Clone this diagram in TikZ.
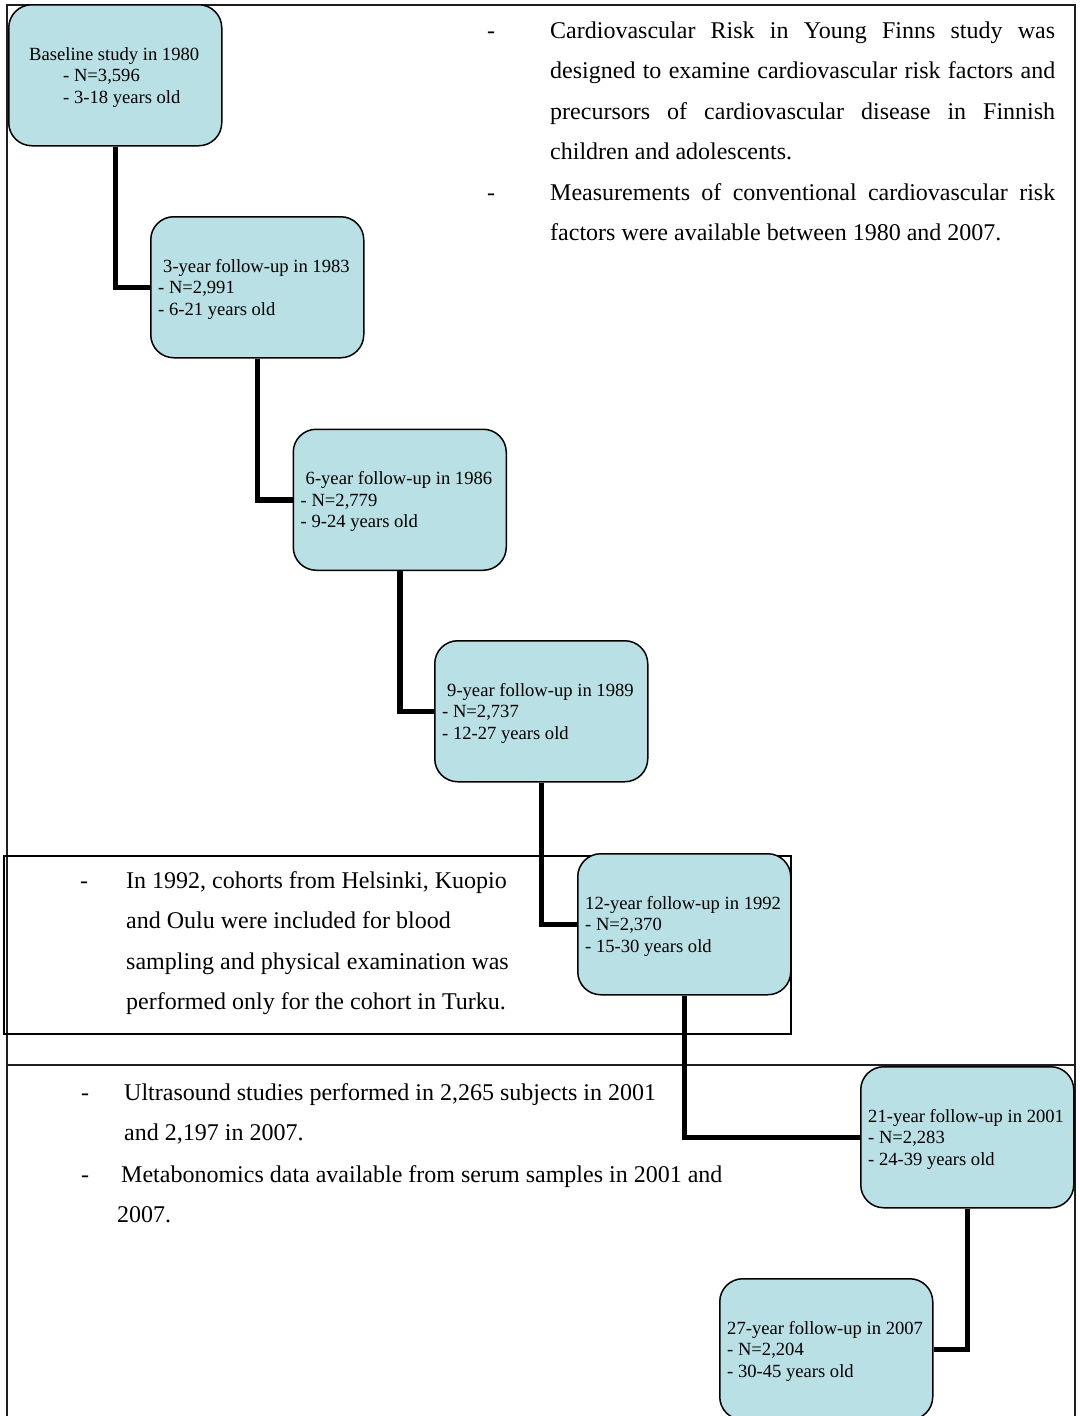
\documentclass[tikz,border=0pt]{standalone}
\usepackage{fontspec}
\setmainfont{Liberation Serif}
\definecolor{boxfill}{RGB}{185,224,228}
\definecolor{framecol}{RGB}{30,30,30}
\begin{document}
\begin{tikzpicture}[x=1pt,y=-1pt,
  stage/.style={draw=black, line width=1.5pt, fill=boxfill, rounded corners=23pt,
    minimum width=213pt, minimum height=141pt, inner sep=0pt, anchor=north west},
  stagetext/.style={inner sep=0pt, anchor=base west, font=\fontsize{18.6}{21.6}\selectfont},
  link/.style={line width=5.5pt, black},
  framebox/.style={line width=1.5pt, draw=framecol},
  note/.style={inner sep=0pt, anchor=base west, font=\fontsize{24}{40.6}\selectfont},
]
\useasboundingbox (0,0) rectangle (1079,1416);
\clip (0,0) rectangle (1079,1416);

% frames
\draw[framebox] (7,1420) -- (7,5) -- (1075,5) -- (1075,1420);
\draw[framebox] (7,1065) -- (1075,1065);
\node[draw=black, line width=1.5pt, inner sep=0pt, minimum width=787pt, minimum height=178pt, anchor=north west] (r92) at (3,855) {};

% stages
\node[stage] (b1) at (8,4) {};
\node[stage] (b2) at (150,216) {};
\node[stage] (b3) at (292.5,428.5) {};
\node[stage] (b4) at (434,640) {};
\node[stage] (b5) at (577,853) {};
\node[stage] (b6) at (860,1066) {};
\node[stage] (b7) at (719,1278) {};

% connectors
\draw[link] (b1.south) |- (b2.west);
\draw[link] (b2.south) |- (b3.west);
\draw[link] (b3.south) |- (b4.west);
\draw[link] (b4.south) |- (b5.west);
\draw[link] (b5.south) |- (b6.west);
\draw[link] (b6.south) |- (b7.east);

% stage texts
\node[stagetext] (t1) at ([shift={(8,56)}]b1.north west) {\begin{tabular}[t]{@{}l@{}}\hspace*{13pt}Baseline study in 1980\\\hspace*{47pt}- N=3,596\\\hspace*{47pt}- 3-18 years old\end{tabular}};
\node[stagetext] (t2) at ([shift={(8,56)}]b2.north west) {\begin{tabular}[t]{@{}l@{}}\hspace*{5pt}3-year follow-up in 1983\\- N=2,991\\- 6-21 years old\end{tabular}};
\node[stagetext] (t3) at ([shift={(8,56)}]b3.north west) {\begin{tabular}[t]{@{}l@{}}\hspace*{5pt}6-year follow-up in 1986\\- N=2,779\\- 9-24 years old\end{tabular}};
\node[stagetext] (t4) at ([shift={(8,56)}]b4.north west) {\begin{tabular}[t]{@{}l@{}}\hspace*{5pt}9-year follow-up in 1989\\- N=2,737\\- 12-27 years old\end{tabular}};
\node[stagetext] (t5) at ([shift={(8,56)}]b5.north west) {\begin{tabular}[t]{@{}l@{}}12-year follow-up in 1992\\- N=2,370\\- 15-30 years old\end{tabular}};
\node[stagetext] (t6) at ([shift={(8,56)}]b6.north west) {\begin{tabular}[t]{@{}l@{}}21-year follow-up in 2001\\- N=2,283\\- 24-39 years old\end{tabular}};
\node[stagetext] (t7) at ([shift={(8,56)}]b7.north west) {\begin{tabular}[t]{@{}l@{}}27-year follow-up in 2007\\- N=2,204\\- 30-45 years old\end{tabular}};

% top-right notes
\node[note] (d1) at (487,38) {-};
\node[note] (n1) at (550,38) {\begin{tabular}[t]{@{}l@{}}\makebox[505pt][s]{Cardiovascular Risk in Young Finns study was}\\\makebox[505pt][s]{designed to examine cardiovascular risk factors and}\\\makebox[505pt][s]{precursors of cardiovascular disease in Finnish}\\children and adolescents.\end{tabular}};
\node[note] (d2) at (487,200) {-};
\node[note] (n2) at (550,200) {\begin{tabular}[t]{@{}l@{}}\makebox[505pt][s]{Measurements of conventional cardiovascular risk}\\factors were available between 1980 and 2007.\end{tabular}};

% 1992 note
\node[note] (d3) at (80,888) {-};
\node[note] (n3) at (126,888) {\begin{tabular}[t]{@{}l@{}}In 1992, cohorts from Helsinki, Kuopio\\and Oulu were included for blood\\sampling and physical examination was\\performed only for the cohort in Turku.\end{tabular}};

% bottom notes
\node[note] (d4) at (81,1100) {-};
\node[note] (n4) at (124,1100) {\begin{tabular}[t]{@{}l@{}}Ultrasound studies performed in 2,265 subjects in 2001\\and 2,197 in 2007.\end{tabular}};
\node[note] (d5) at (81,1182) {-};
\node[note] (n5) at (121,1182) {\begin{tabular}[t]{@{}l@{}}Metabonomics data available from serum samples in 2001 and\\\hspace*{-4pt}2007.\end{tabular}};
\end{tikzpicture}
\end{document}
